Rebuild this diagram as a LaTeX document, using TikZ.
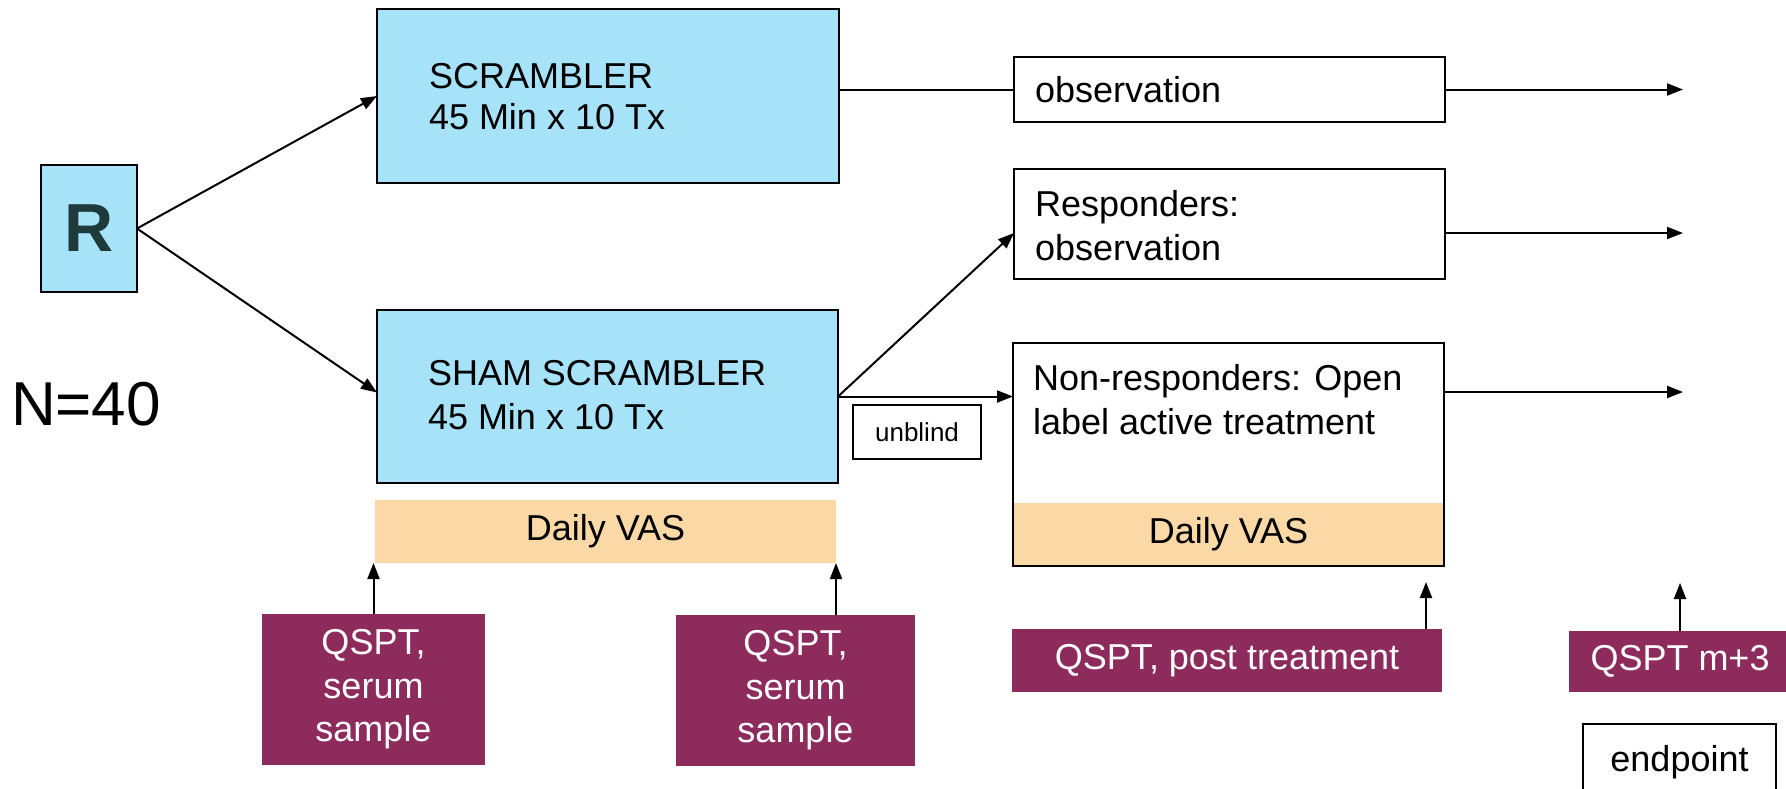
\documentclass[tikz,border=0pt]{standalone}
\usepackage{fontspec}
\setmainfont{Liberation Sans}
\usetikzlibrary{arrows.meta}
\definecolor{skyb}{HTML}{A6E2F8}
\definecolor{vasor}{HTML}{FBD9A7}
\definecolor{qmaroon}{HTML}{8C2B5C}
\definecolor{rtext}{HTML}{1E3A3A}
\begin{document}
\begin{tikzpicture}[x=0.5pt,y=-0.5pt,
  every node/.style={inner sep=0pt, outer sep=0pt},
  frame/.style={rectangle, anchor=north west, draw=black, line width=1.2pt},
  bluebox/.style={frame, fill=skyb},
  whitebox/.style={frame, fill=white},
  vasband/.style={rectangle, anchor=north west, fill=vasor},
  qbox/.style={rectangle, anchor=north west, fill=qmaroon, text=white, align=center,
    font=\fontsize{18}{21.75}\selectfont},
  lbl/.style={anchor=west, align=left, font=\fontsize{18}{22}\selectfont},
  ctext/.style={font=\fontsize{18}{22}\selectfont},
  conn/.style={line width=1pt, -{Triangle[length=8pt,width=6pt]}},
  plain/.style={line width=1pt}
]
\useasboundingbox (0,0) rectangle (1786,788);
\clip (0,0) rectangle (1786,788);

% left
\node[bluebox, minimum width=48pt, minimum height=63.5pt,
  font=\fontsize{34}{40}\selectfont\bfseries, text=rtext] (r) at (41,165) {R};
\node[anchor=west, font=\fontsize{31}{36}\selectfont] (n40) at (11,404) {N=40};

% treatment boxes
\node[bluebox, minimum width=231pt, minimum height=87pt] (scr) at (377,9) {};
\node[lbl, font=\fontsize{18}{20.5}\selectfont] (scrT) at ([xshift=26pt,yshift=-0.5pt]scr.west) {SCRAMBLER\\45 Min x 10 Tx};
\node[bluebox, minimum width=230.5pt, minimum height=86.5pt] (sham) at (377,310) {};
\node[lbl] (shamT) at ([xshift=25.5pt,yshift=0.5pt]sham.west) {SHAM SCRAMBLER\\45 Min x 10 Tx};
\node[vasband, minimum width=230.5pt, minimum height=31.5pt, ctext] (vas1) at (375,500) {Daily VAS};

% QSPT boxes
\node[qbox, minimum width=111.5pt, minimum height=75.5pt] (q1) at (262,614) {QSPT,\\serum\\sample};
\node[qbox, minimum width=119.5pt, minimum height=75.5pt] (q2) at (676,615) {QSPT,\\serum\\sample};

% right column
\node[whitebox, minimum width=215.5pt, minimum height=32.5pt] (obs) at (1014,57) {};
\node[lbl] (obsT) at ([xshift=10.5pt]obs.west) {observation};
\node[whitebox, minimum width=215.5pt, minimum height=55pt] (resp) at (1014,169) {};
\node[lbl] (respT) at ([xshift=10.5pt,yshift=-0.75pt]resp.west) {Responders:\\observation};
\node[vasband, minimum width=214.5pt, minimum height=31pt, ctext] (vas2) at (1014,503) {Daily VAS};
\node[frame, minimum width=215.5pt, minimum height=111.5pt] (nonresp) at (1013,343) {};
\node[lbl] (nonT) at (1033,400) {Non-responders: Open\\label active treatment};
\node[whitebox, line width=1pt, minimum width=64pt, minimum height=27pt,
  font=\fontsize{13}{15}\selectfont] (unb) at (853,405) {unblind};

\node[qbox, minimum width=215pt, minimum height=31.5pt] (qpost) at (1012,629) {QSPT, post treatment};
\node[qbox, minimum width=111pt, minimum height=30.5pt] (qm3) at (1569,631) {QSPT m+3};
\node[whitebox, line width=1pt, minimum width=96.5pt, minimum height=38pt, ctext] (endp) at (1583,724) {endpoint};

% free ends
\coordinate (e1) at (1683,89.5);
\coordinate (e2) at (1683,233);
\coordinate (e3) at (1683,392);
\coordinate (p1) at (1426,582);
\coordinate (p2) at (1680,583);

% connectors
\draw[conn] (r.east) -- (scr.west);
\draw[conn] (r.east) -- ([yshift=2pt]sham.west);
\draw[plain] (scr.east |- obs.west) -- (obs.west);
\draw[conn] (obs.east) -- (e1);
\draw[conn] (resp.east |- e2) -- (e2);
\draw[conn] (nonresp.east |- e3) -- (e3);
\draw[conn] (sham.east) -- (resp.west |- e2);
\draw[conn] (sham.east) -- (nonresp.west |- sham.east);
\draw[conn] (q1.north) -- (q1.north |- vas1.south);
\draw[conn] (vas1.south east |- q2.north) -- (vas1.south east);
\draw[conn] (qpost.north -| p1) -- (p1);
\draw[conn] (qm3.north -| p2) -- (p2);
\end{tikzpicture}
\end{document}
